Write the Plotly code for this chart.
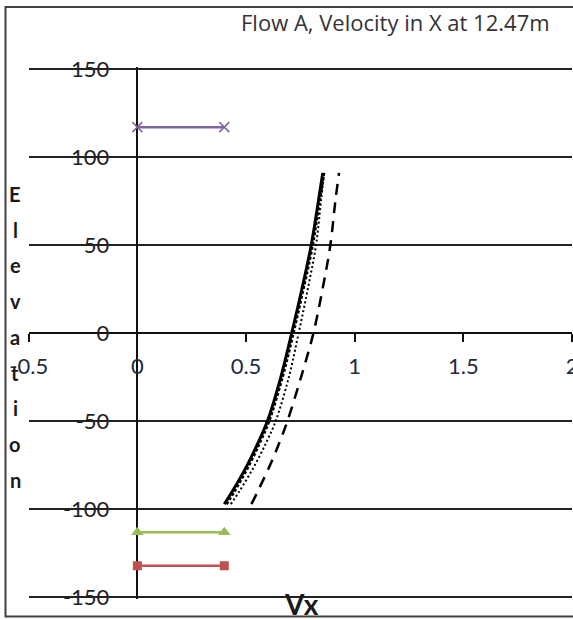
import plotly.graph_objects as go

# ---- data ----
elevation = [-97, -90, -75, -61, -50, -25, 0, 25, 50, 75, 91]
vx_solid = [0.40, 0.436, 0.505, 0.56, 0.598, 0.66, 0.71, 0.757, 0.80, 0.833, 0.853]
vx_sqdot = [0.41, 0.445, 0.513, 0.567, 0.605, 0.667, 0.717, 0.763, 0.806, 0.838, 0.858]
vx_dotted = [0.43, 0.468, 0.54, 0.597, 0.636, 0.697, 0.742, 0.784, 0.822, 0.845, 0.86]
vx_dashed = [0.525, 0.553, 0.61, 0.657, 0.69, 0.753, 0.81, 0.852, 0.888, 0.911, 0.928]

ref_x = [0, 0.4]
purple_y = [117, 117]
green_y = [-113, -113]
red_y = [-132, -132]

x_ticks = [-0.5, 0, 0.5, 1, 1.5, 2]
x_ticklabels = ["-0.5", "0", "0.5", "1", "1.5", "2"]
y_ticks = [-150, -100, -50, 0, 50, 100, 150]
y_ticklabels = ["-150", "-100", "-50", "0", "50", "100", "150"]

title_text = "Flow A, Velocity in X at 12.47m"
x_title = "Vx"
y_title = "Elevation"

FONT = "Lato"
W, H = 573, 620

fig = go.Figure()

fig.add_trace(go.Scatter(x=vx_dashed, y=elevation, mode="lines",
                         line=dict(color="black", width=2.5, dash="11px,8px", shape="spline")))
fig.add_trace(go.Scatter(x=vx_dotted, y=elevation, mode="lines",
                         line=dict(color="black", width=2, dash="2px,2.5px", shape="spline")))
fig.add_trace(go.Scatter(x=vx_sqdot, y=elevation, mode="lines",
                         line=dict(color="black", width=3, dash="3px,2px", shape="spline")))
fig.add_trace(go.Scatter(x=vx_solid, y=elevation, mode="lines",
                         line=dict(color="black", width=3, shape="spline")))

fig.add_trace(go.Scatter(x=ref_x, y=purple_y, mode="lines+markers",
                         line=dict(color="#8064A2", width=2.5),
                         marker=dict(symbol="x-thin", size=10,
                                     line=dict(color="#8064A2", width=1.5))))
fig.add_trace(go.Scatter(x=ref_x, y=green_y, mode="lines+markers",
                         line=dict(color="#9BBB59", width=2.5),
                         marker=dict(symbol="triangle-up", size=11, color="#9BBB59")))
fig.add_trace(go.Scatter(x=ref_x, y=red_y, mode="lines+markers",
                         line=dict(color="#C0504D", width=2.5),
                         marker=dict(symbol="square", size=9, color="#C0504D")))

px_per_unit_y = 528.5 / 300.0
y_lo, y_hi = -151, 151
x_dom = [28.7 / W, 572.0 / W]
y_dom = [1 - (597.5 + px_per_unit_y) / H, 1 - (69.0 - px_per_unit_y) / H]
x0_paper = x_dom[0] + (0 - (-0.5)) / 2.5 * (x_dom[1] - x_dom[0])
y0_paper = (y_dom[0] + y_dom[1]) / 2

fig.update_layout(
    template="none",
    width=W, height=H,
    margin=dict(l=0, r=0, t=0, b=0, pad=0, autoexpand=False),
    paper_bgcolor="white", plot_bgcolor="white",
    showlegend=False,
    font=dict(family=FONT, color="#222"),
    xaxis=dict(
        range=[-0.5, 2], domain=x_dom, anchor="free", position=y0_paper,
        automargin=False,
        showgrid=False, zeroline=True, zerolinecolor="#111", zerolinewidth=1.5,
        showline=True, linecolor="#111", linewidth=1.5,
        ticks="outside", ticklen=8, tickcolor="#111", tickwidth=1.5,
        tickvals=x_ticks, ticktext=x_ticklabels,
        tickfont=dict(size=22, color="#1f2a44", family=FONT),
        ticklabelstandoff=6, ticklabeloverflow="allow",
    ),
    yaxis=dict(
        range=[y_lo, y_hi], domain=y_dom, anchor="free", position=x0_paper,
        automargin=False,
        showgrid=True, gridcolor="#222", gridwidth=1.5,
        zeroline=False, showline=False, ticks="",
        tickvals=y_ticks, ticktext=y_ticklabels,
        tickfont=dict(size=22, color="#222", family=FONT),
        ticklabelstandoff=28, ticklabeloverflow="allow",
    ),
    shapes=[dict(type="rect", xref="paper", yref="paper",
                 x0=5.5 / W, x1=1.02, y0=1 - 616.5 / H, y1=1 - 7 / H,
                 line=dict(color="#404040", width=2), fillcolor="rgba(0,0,0,0)",
                 layer="below")],
)

annotations = [
    dict(text=title_text, xref="paper", yref="paper", x=395 / W, y=1 - 22 / H,
         xanchor="center", yanchor="middle", showarrow=False,
         font=dict(size=22, color="#333", family="Open Sans")),
    dict(text="<b>" + x_title + "</b>", xref="paper", yref="paper", x=301 / W, y=1 - 604 / H,
         xanchor="center", yanchor="middle", showarrow=False,
         font=dict(size=28, color="#1a1a1a", family=FONT)),
]
# stacked vertical letters of the y title
first_y, step = 194.0, 35.7
for i, ch in enumerate(y_title):
    annotations.append(dict(text="<b>" + ch + "</b>", xref="paper", yref="paper",
                            x=15 / W, y=1 - (first_y + i * step) / H,
                            xanchor="center", yanchor="middle", showarrow=False,
                            font=dict(size=20, color="#1a1a1a", family=FONT)))
fig.update_layout(annotations=annotations)

fig.write_html("out.html")
